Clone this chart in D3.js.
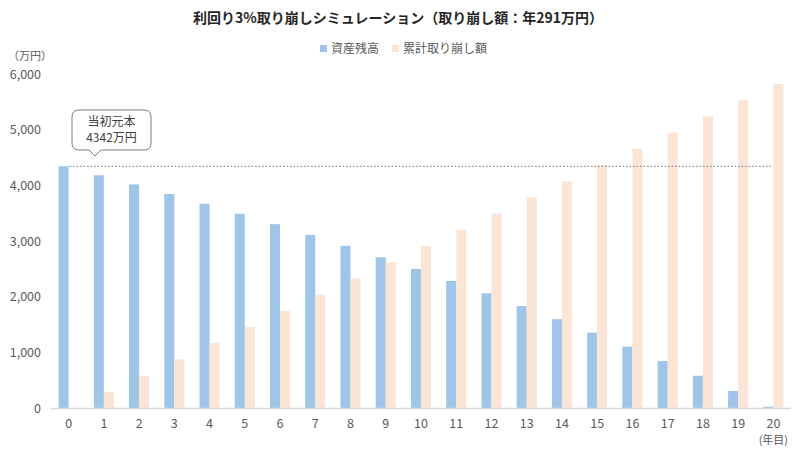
<html>
  <head>
    <meta charset="utf-8" />
    <script src="https://d3js.org/d3.v7.min.js"></script>
    <style>
      body { margin: 0; background: #fff; }
      text { font-family: "Noto Sans CJK JP", "Noto Sans", sans-serif; }
    </style>
  </head>
  <body>
    <svg id="chart" width="800" height="450"></svg>
    <script>
      const years = d3.range(0, 21).map(String);
      const balance = [4342, 4181, 4016, 3845, 3670, 3489, 3302, 3110, 2913, 2709, 2499,
                       2283, 2061, 1832, 1596, 1353, 1102, 844, 579, 305, 23];
      const withdrawn = [0, 291, 582, 873, 1164, 1455, 1746, 2037, 2328, 2619, 2910,
                         3201, 3492, 3783, 4074, 4365, 4656, 4947, 5238, 5529, 5820];
      const seriesNames = ["資産残高", "累計取り崩し額"];
      const yTicks = [0, 1000, 2000, 3000, 4000, 5000, 6000];
      const principal = 4342;

      const colors = ["#9fc5e8", "#fbe5d6"];
      const svg = d3.select("#chart");
      const plotLeft = 51, plotRight = 791, plotTop = 74, plotBottom = 408;

      const x = d3.scaleBand().domain(years).range([plotLeft, plotRight])
        .paddingInner(0.43).paddingOuter(0.215);
      const xSub = d3.scaleBand().domain([0, 1]).range([0, x.bandwidth()]);
      const y = d3.scaleLinear().domain([0, 6000]).range([plotBottom, plotTop]);

      // title
      svg.append("text").attr("x", 398).attr("y", 23).attr("text-anchor", "middle")
        .attr("font-size", 14).attr("font-weight", "bold").attr("fill", "#262626")
        .text("利回り3%取り崩しシミュレーション（取り崩し額：年291万円）");

      // legend
      const legend = svg.append("g").attr("font-size", 12).attr("fill", "#595959");
      [[320, 0], [392, 1]].forEach(([lx, i]) => {
        legend.append("rect").attr("x", lx).attr("y", 45).attr("width", 7).attr("height", 7)
          .attr("fill", colors[i]);
        legend.append("text").attr("x", lx + 11).attr("y", 53).text(seriesNames[i]);
      });

      // y axis
      const yAxis = svg.append("g").attr("transform", `translate(${plotLeft - 7},0)`)
        .call(d3.axisLeft(y).tickValues(yTicks).tickFormat(d3.format(",")).tickSize(0));
      yAxis.select(".domain").remove();
      yAxis.selectAll("text").attr("font-size", 12.5).attr("fill", "#595959")
        .attr("font-family", "'Noto Sans CJK JP', sans-serif");
      svg.append("text").attr("x", 8).attr("y", 60).attr("font-size", 11).attr("fill", "#595959")
        .text("（万円）");

      // bars
      const groups = svg.append("g").selectAll("g").data(years).join("g")
        .attr("transform", d => `translate(${x(d)},0)`);
      groups.append("rect")
        .attr("x", xSub(0)).attr("width", xSub.bandwidth())
        .attr("y", (d, i) => y(balance[i])).attr("height", (d, i) => plotBottom - y(balance[i]))
        .attr("fill", colors[0]);
      groups.append("rect")
        .attr("x", xSub(1)).attr("width", xSub.bandwidth())
        .attr("y", (d, i) => y(withdrawn[i])).attr("height", (d, i) => plotBottom - y(withdrawn[i]))
        .attr("fill", colors[1]);

      // baseline + x axis
      svg.append("line").attr("x1", plotLeft).attr("x2", plotRight)
        .attr("y1", plotBottom + 0.5).attr("y2", plotBottom + 0.5)
        .attr("stroke", "#d9d9d9").attr("stroke-width", 1.5);
      const xAxis = svg.append("g").attr("transform", `translate(0,${plotBottom + 8})`)
        .call(d3.axisBottom(x).tickSize(0));
      xAxis.select(".domain").remove();
      xAxis.selectAll("text").attr("font-size", 12.5).attr("fill", "#595959")
        .attr("font-family", "'Noto Sans CJK JP', sans-serif");
      svg.append("text").attr("x", x("20") + x.bandwidth() / 2).attr("y", 444)
        .attr("text-anchor", "middle").attr("font-size", 11).attr("fill", "#595959").text("(年目)");

      // principal reference line
      svg.append("line")
        .attr("x1", x("0") + x.bandwidth() / 2 + 1).attr("x2", x("20") + x.bandwidth() / 2 - 2)
        .attr("y1", y(principal)).attr("y2", y(principal))
        .attr("stroke", "#8c8c8c").attr("stroke-width", 1.2).attr("stroke-dasharray", "1.5,2");

      // callout
      const cx = 72, cy = 110, cw = 79, ch = 40, px = 95;
      const r = 7;
      svg.append("path")
        .attr("d", `M${cx + r},${cy} H${cx + cw - r} Q${cx + cw},${cy} ${cx + cw},${cy + r}
          V${cy + ch - r} Q${cx + cw},${cy + ch} ${cx + cw - r},${cy + ch}
          H${px + 6} L${px},${cy + ch + 6} L${px - 6},${cy + ch}
          H${cx + r} Q${cx},${cy + ch} ${cx},${cy + ch - r} V${cy + r} Q${cx},${cy} ${cx + r},${cy} Z`)
        .attr("fill", "#fff").attr("stroke", "#7f7f7f").attr("stroke-width", 1);
      svg.append("text").attr("x", cx + cw / 2).attr("y", cy + 16).attr("text-anchor", "middle")
        .attr("font-size", 12).attr("fill", "#404040").text("当初元本");
      svg.append("text").attr("x", cx + cw / 2).attr("y", cy + 32).attr("text-anchor", "middle")
        .attr("font-size", 12).attr("fill", "#404040").text(`${principal}万円`);
    </script>
  </body>
</html>
